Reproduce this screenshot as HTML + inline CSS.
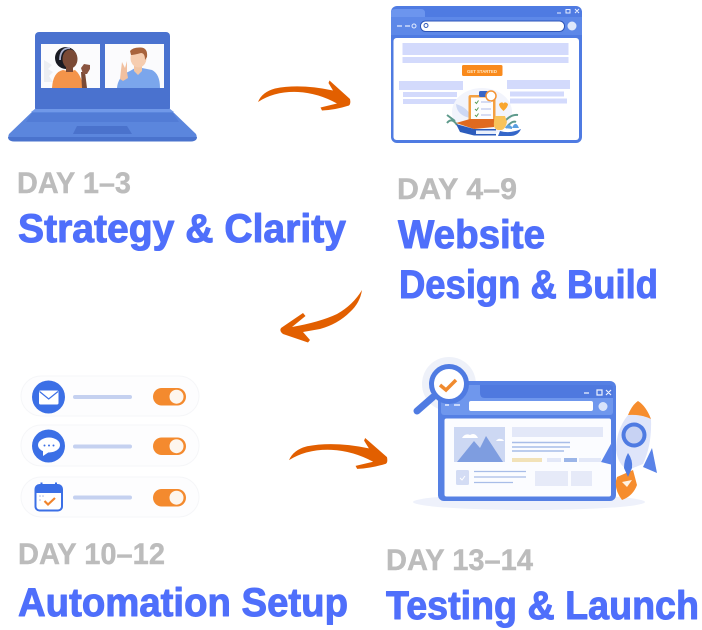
<!DOCTYPE html>
<html><head><meta charset="utf-8"><style>
html,body{margin:0;padding:0;background:#fff;width:702px;height:630px;overflow:hidden}
svg{display:block}
.d{font:bold 30px "Liberation Sans",sans-serif;fill:#bcbcbc;stroke:#bcbcbc;stroke-width:.4}
.h{font:bold 40px "Liberation Sans",sans-serif;fill:#4f6ffb;stroke:#4f6ffb;stroke-width:1;stroke-linejoin:round}
</style></head><body>
<svg width="702" height="630" viewBox="0 0 702 630" xmlns="http://www.w3.org/2000/svg">
<defs><path id="arr" d="M258 102Q262 92 275 88.500Q300 83.500 333 90.500L328.500 83L329.500 80.500L350 99Q351 104 349 105.500Q335 110 322 110.500L320.500 107.500L337 103.500Q318 93 298 92Q275 91 258 102Z" fill="#e25f00"/></defs>
<!-- laptop -->
<rect x="35" y="32" width="135" height="80" rx="4" fill="#4a72cf"/>
<path d="M35 109H170L196 134Q199 141 190 141.500H15Q6 141 9 134Z" fill="#5b86dd"/>
<path d="M35 109H170L174 112H31Z" fill="#7098e8"/>
<path d="M32 113H173L179 122H26Z" fill="#527cd6"/>
<path d="M77 126H127L132 134H73Z" fill="#4a72cc"/>
<path d="M8 137Q8 141.500 15 141.500H190Q197 141.500 197 137Z" fill="#4a73cd"/>
<rect x="41" y="44" width="59" height="44" fill="#fbfbfd"/>
<rect x="105" y="44" width="59" height="44" fill="#fbfbfd"/>
<path d="M44 60l8 5-4 4 5 3-4 4 4 6h-9z" fill="#eceef2"/>
<path d="M52 88Q53 72 63 70Q70 72 75 70Q80 74 82 82L84 88Z" fill="#f4944a"/>
<path d="M81 72L85 72L87 88H82Z" fill="#7a4a36"/>
<path d="M81 68L84 64L90 65L90 69L87 74H83Z" fill="#8a5440"/>
<ellipse cx="66" cy="58" rx="11" ry="11" fill="#191a22"/>
<ellipse cx="70" cy="59" rx="7.500" ry="9.500" fill="#7a4a36"/>
<rect x="66" y="65" width="7" height="7" fill="#7a4a36"/>
<path d="M60 60Q60 48 70 48" fill="none" stroke="#aab0cc" stroke-width="1.800"/>
<path d="M117 88Q118 76 130 71L135 68H142L152 70Q160 74 160 88Z" fill="#7ba6ec"/>
<path d="M134 65h8v6l-4 4-4-4z" fill="#f1c5a5"/>
<ellipse cx="138.500" cy="58" rx="8" ry="9.500" fill="#f6cdb0"/>
<path d="M130 51Q133 47 141 47.500Q148 48 147 57L145 60Q145 53 141 53Q134 55 131 55Z" fill="#a8633c"/>
<path d="M120 79L121 70L122 62L125 68L127 61L127 72L128 78L123 81Z" fill="#f1c0a0"/>
<!-- arrow 1 -->
<use href="#arr"/>
<!-- browser 2 -->
<rect x="391" y="6" width="191" height="137" rx="6" fill="#4f7be2"/>
<path d="M391 17V12Q391 9 396 9H421Q425 9 425 13V17Z" fill="#6c95ee"/>
<rect x="391" y="17" width="191" height="18" fill="#5d88e8"/>
<rect x="393.500" y="38" width="185.500" height="102" rx="3" fill="#fff"/>
<rect x="420.500" y="21" width="144" height="10.500" rx="5" fill="#fff" stroke="#2f56b8"/>
<circle cx="572" cy="26" r="4.500" fill="#dfe8fb"/>
<path d="M397 26h5M405 26h5" stroke="#e4ecff" stroke-width="1.200"/><circle cx="414" cy="26" r="2" fill="none" stroke="#e4ecff"/>
<circle cx="426" cy="25.500" r="2" fill="none" stroke="#2f56b8"/>
<path d="M557 13h4M566 9.500h4v3.500h-4zM575 9l4 4M579 9l-4 4" stroke="#e7eeff" fill="none"/>
<g fill="#d3dafc">
<rect x="402.500" y="43" width="166" height="12"/><rect x="402.500" y="57" width="166" height="6"/>
<rect x="399" y="81" width="64" height="9"/><rect x="403" y="92" width="54" height="5"/><rect x="403" y="99" width="54" height="5"/>
<rect x="507" y="80" width="63" height="9"/><rect x="510" y="91.500" width="54" height="5"/><rect x="510" y="98.500" width="57" height="5"/>
</g>
<rect x="462" y="65" width="40.500" height="11" rx="1.500" fill="#f98a1c"/>
<text x="482" y="73" text-anchor="middle" font-family="Liberation Sans,sans-serif" font-size="4.300" font-weight="bold" fill="#ffe9c8">GET STARTED</text>
<ellipse cx="482" cy="112" rx="30" ry="24" fill="#f2f4fc"/>
<path d="M447 123Q452 117 457 125M447 115l8 6" fill="none" stroke="#5e9a8c" stroke-width="2"/>
<path d="M456 104q13 4 15 14q-14-2-15-14z" fill="#cdd8f5"/>
<path d="M506 120q6-6 12-5M506 128q6-8 10-6" stroke="#5e9a8c" stroke-width="2" fill="none"/>
<rect x="468.500" y="95" width="27" height="27" rx="2" fill="#f4a042"/>
<rect x="471" y="97.500" width="22" height="23" fill="#fdfdfe"/>
<rect x="479" y="91" width="9" height="6" rx="1.500" fill="#3866c8"/>
<circle cx="491" cy="96" r="5" fill="#fff" stroke="#f49334" stroke-width="1.500"/>
<path d="M475 102l1.500 1.500 2-3M475 109l1.500 1.500 2-3M475 115l1.500 1.500 2-3" stroke="#5a9a58" fill="none"/>
<path d="M481 102h10M481 109h10M481 115h10" stroke="#c9d1ef" stroke-width="1.500"/>
<path d="M456 123L470 119H494V127L474 129Z" fill="#e06a20"/>
<path d="M456 124L474 129V135.500L460 132Z" fill="#2c5cbc"/>
<path d="M474 129H496V135.500H474Z" fill="#2c5cbc"/><path d="M476 130.500H496V134H476Z" fill="#eaf0fb"/>
<path d="M499 104q3-3 4.500-.5q1.500-2.500 4.500.5q0 3-4.500 7q-4.500-4-4.500-7z" fill="#f9a62e"/>
<path d="M495 116h10l2 6q-2 8-6 8h-3q-5-1-4-8z" fill="#f8c35a"/>
<path d="M500 131Q510 134 521 129Q518 136 510 136H498Z" fill="#3567c9"/>
<path d="M505 128q3-6 7-1v2zM512 128q3-7 6-2l1 2z" fill="#5a9fe0"/>
<!-- arrow 2 -->
<path d="M362 290Q360 303 350 312Q338 324 320 329L303 332L310 340L308 342.500L283 334Q279 331 281 328L303 313L305.500 316L292 327Q320 322 337 314Q353 305 362 290Z" fill="#e25f00"/>
<!-- automation -->
<g fill="#fdfdfe" stroke="#f5f6f8">
<rect x="21" y="376" width="178" height="40" rx="20"/>
<rect x="21" y="425" width="178" height="41" rx="20"/>
<rect x="21" y="477" width="178" height="40" rx="20"/>
</g>
<circle cx="48.500" cy="397" r="16.500" fill="#3b6fe6"/>
<rect x="39" y="390.500" width="19.500" height="14" rx="1.500" fill="#fff"/>
<path d="M39.500 391.500L48.700 399L58 391.500" fill="none" stroke="#3b6fe6" stroke-width="1.200"/>
<circle cx="48.500" cy="446" r="16.500" fill="#3b6fe6"/>
<ellipse cx="49" cy="445" rx="11" ry="7.500" fill="#fff"/><path d="M43 450v6l6-4z" fill="#fff"/>
<g fill="#3b6fe6"><circle cx="44.500" cy="445.500" r="1"/><circle cx="49" cy="445.500" r="1"/><circle cx="53.500" cy="445.500" r="1"/></g>
<rect x="35.500" y="485" width="26.500" height="25.500" rx="4" fill="#fff" stroke="#3b6fe6" stroke-width="2"/>
<path d="M35.500 489q0-4 4-4h18.500q4 0 4 4v4h-26.500z" fill="#3b6fe6"/>
<path d="M41.500 482.500v5M56 482.500v5" stroke="#3b6fe6" stroke-width="2"/>
<path d="M44.500 501l3.500 3.500l7-6.500" fill="none" stroke="#f0842c" stroke-width="2.200"/>
<g fill="#a9b8e4"><circle cx="40" cy="496" r=".8"/><circle cx="43" cy="496" r=".8"/><circle cx="40" cy="500" r=".8"/></g>
<g fill="#c5d1f0">
<rect x="73" y="395" width="59" height="4" rx="2"/><rect x="73" y="444.500" width="59" height="4" rx="2"/><rect x="73" y="495.500" width="59" height="4" rx="2"/>
</g>
<g fill="#f48a2e">
<rect x="153" y="388" width="33" height="17.500" rx="8.700"/><rect x="153" y="437.500" width="33" height="17.500" rx="8.700"/><rect x="153" y="489" width="33" height="17.500" rx="8.700"/>
</g>
<g fill="#fdf6ee"><circle cx="176.500" cy="396.700" r="7"/><circle cx="176.500" cy="446.200" r="7"/><circle cx="176.500" cy="497.700" r="7"/></g>
<!-- arrow 3 -->
<use href="#arr" transform="matrix(1.065 0 0 1.03 14.230 355.100)"/>
<!-- testing illustration -->
<ellipse cx="529" cy="502" rx="116" ry="8" fill="#eef1fb"/>
<circle cx="449" cy="384" r="27" fill="#eef1f9"/>
<rect x="438" y="381" width="178" height="120" rx="6" fill="#5580e4"/>
<rect x="441" y="385" width="172" height="30" rx="3" fill="#6f97ed"/>
<path d="M480 385H610Q613 385 613 388V398H485Q480 398 480 393Z" fill="#4f79df"/>
<rect x="469" y="401" width="124" height="10" rx="2" fill="#fff"/>
<circle cx="603" cy="406.500" r="4.500" fill="#d9e4fb"/>
<path d="M445 405h4M454 405h6" stroke="#e7eeff" stroke-width="1.500"/>
<rect x="444.500" y="418.500" width="166.500" height="78" rx="2" fill="#fbfcff"/>
<path d="M584 393h5M597 390h5v5h-5zM606 390l5 5M611 390l-5 5" stroke="#eef3ff" fill="none" stroke-width="1.200"/>
<rect x="454" y="427" width="51" height="35" fill="#cdd8f3"/>
<path d="M457 462L474 441L480 448L486 436L503 462Z" fill="#7e9de0"/>
<path d="M462 438q3-5 8-3q5-3 8 3z M496 441q2-3 5-2q2 0 3 2z" fill="#fff"/>
<rect x="512" y="427" width="91" height="10" fill="#e3e8f8"/>
<path d="M512 442.500h58M512 447h58M512 451h52" stroke="#a8bde8" stroke-width="1.500"/>
<rect x="512" y="458" width="30" height="4" fill="#f2e2b8"/>
<rect x="547" y="458" width="14" height="4" fill="#e3e8f8"/>
<rect x="564" y="458" width="13" height="4" fill="#9bb5e8"/>
<rect x="579" y="458" width="22" height="4" fill="#e3e8f8"/>
<rect x="456" y="470" width="13" height="15" rx="1.500" fill="#d3dcf4"/>
<path d="M460 478l2 2 3-4" stroke="#fff" fill="none"/>
<path d="M474 471.500h52M474 477h52M474 482.500h39" stroke="#a8bde8" stroke-width="1.300"/>
<rect x="535" y="471" width="33" height="15" fill="#e6eaf8"/>
<rect x="571" y="471" width="21" height="15" fill="#e6eaf8"/>
<path d="M417 411L433 397" stroke="#4f7be2" stroke-width="7" stroke-linecap="round"/>
<circle cx="449" cy="384" r="17.500" fill="#fff" stroke="#4f7be2" stroke-width="5"/>
<path d="M440 385l6 5 10-10" fill="none" stroke="#f08a2e" stroke-width="3.500"/>
<!-- rocket -->
<path d="M617 477Q613 488 622 500Q633 496 637 485L633 470Z" fill="#f68d2e"/>
<path d="M622 482L632 480L627 487Z" fill="#fff3e2"/>
<path d="M612 442L601 462L613 465Z" fill="#5a83e8"/>
<path d="M652 448L657 473L643 467Z" fill="#5a83e8"/>
<path d="M628 415Q616 430 616 450Q618 465 628 470L643 464Q652 445 651 419Q640 414 628 415Z" fill="#dfe5fa"/>
<path d="M628 415Q632 405 638 401Q646 406 651 419Q640 414 628 415Z" fill="#f68d2e"/>
<circle cx="634" cy="435" r="12.500" fill="#4f7be2"/>
<circle cx="634" cy="435" r="8.500" fill="#c7d2f3"/>
<path d="M628 453Q633 460 632 468L628 477L624 468Q624 460 628 453Z" fill="#4f7be2"/>
<!-- labels -->
<text class="d" x="17" y="193" textLength="114" lengthAdjust="spacingAndGlyphs">DAY 1–3</text>
<text class="h" x="18" y="242" textLength="328" lengthAdjust="spacingAndGlyphs">Strategy &amp; Clarity</text>
<text class="d" x="397" y="199" textLength="120" lengthAdjust="spacingAndGlyphs">DAY 4–9</text>
<text class="h" x="398" y="248" textLength="147" lengthAdjust="spacingAndGlyphs">Website</text>
<text class="h" x="399" y="298" textLength="259" lengthAdjust="spacingAndGlyphs">Design &amp; Build</text>
<text class="d" x="18" y="564" textLength="147" lengthAdjust="spacingAndGlyphs">DAY 10–12</text>
<text class="h" x="18" y="616" textLength="330" lengthAdjust="spacingAndGlyphs">Automation Setup</text>
<text class="d" x="386" y="570" textLength="147" lengthAdjust="spacingAndGlyphs">DAY 13–14</text>
<text class="h" x="386" y="619" textLength="313" lengthAdjust="spacingAndGlyphs">Testing &amp; Launch</text>
</svg>
</body></html>
